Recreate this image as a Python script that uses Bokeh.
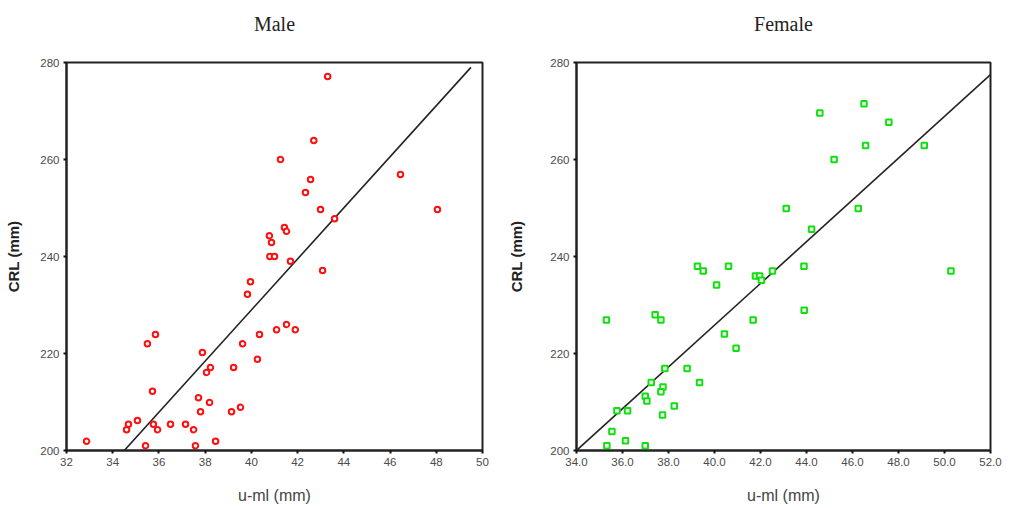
from bokeh.plotting import figure
from bokeh.layouts import row
from bokeh.models import FixedTicker, PrintfTickFormatter, Range1d, LinearAxis
from bokeh.embed import file_html
from bokeh.resources import INLINE

# ---------------- data ----------------
male_x = [43.3, 42.7, 41.26, 46.45, 42.56, 42.34, 42.99, 48.05, 43.6, 41.43, 41.52, 40.78, 40.87,
          40.8, 41.0, 41.69, 43.08, 39.96, 39.83, 41.52, 41.09, 41.9, 40.35, 35.85, 35.5, 39.62,
          37.88, 40.26, 38.23, 39.23, 38.06, 35.72, 37.71, 38.19, 39.53, 37.8, 39.14, 35.07,
          34.68, 35.76, 36.5, 37.15, 34.6, 35.94, 37.5, 32.87, 38.45, 35.42, 37.58]
male_y = [277.1, 263.9, 260.0, 256.9, 255.9, 253.2, 249.7, 249.7, 247.8, 246.0, 245.2, 244.3, 242.9,
          240.0, 240.0, 239.0, 237.1, 234.8, 232.2, 226.0, 224.9, 224.9, 223.9, 223.9, 222.0, 222.0,
          220.2, 218.8, 217.1, 217.1, 216.1, 212.2, 210.9, 209.9, 208.9, 208.0, 208.0, 206.2,
          205.4, 205.4, 205.4, 205.4, 204.3, 204.3, 204.3, 201.9, 201.9, 201.0, 201.0]
male_fit_x = [34.5, 49.5]
male_fit_y = [200.0, 279.0]

female_x = [46.5, 44.58, 47.58, 46.57, 49.12, 45.2, 43.12, 46.25, 44.22,
            39.26, 40.61, 43.89, 39.51, 42.52, 50.28, 41.78, 41.96, 42.04, 40.09, 43.9,
            37.42, 35.3, 37.67, 41.68, 40.43, 40.94, 37.84, 38.81, 37.25, 39.35, 37.76,
            37.67, 36.99, 37.06, 38.25, 35.76, 36.22, 37.74, 35.54, 36.13, 35.32, 36.99]
female_y = [271.5, 269.6, 267.7, 262.9, 262.9, 260.0, 249.9, 249.9, 245.6,
            238.0, 238.0, 238.0, 237.0, 237.0, 237.0, 236.0, 236.0, 235.1, 234.1, 228.9,
            228.0, 226.9, 226.9, 226.9, 224.0, 221.1, 216.9, 216.9, 214.0, 214.0, 213.1,
            212.1, 211.2, 210.2, 209.2, 208.2, 208.2, 207.3, 203.9, 202.0, 201.0, 201.0]
female_fit_x = [34.0, 52.0]
female_fit_y = [200.0, 277.5]

male_xticks = [32, 34, 36, 38, 40, 42, 44, 46, 48, 50]
female_xticks = [34, 36, 38, 40, 42, 44, 46, 48, 50, 52]
yticks = [200, 220, 240, 260, 280]


def make(title, xs, ys, fx, fy, xr, xticks, color, marker, fmt, left, right, fw, ylab_off):
    p = figure(frame_width=fw, frame_height=388, output_backend="svg", toolbar_location=None,
               x_range=Range1d(*xr), y_range=Range1d(200, 280),
               min_border_left=left, min_border_right=right,
               min_border_top=62, min_border_bottom=54)
    xa = p.below[0]
    ya = p.left[0]
    # title drawn as the label of an empty axis above the frame
    top = LinearAxis(ticker=FixedTicker(ticks=[]), axis_label=title,
                     axis_line_color=None, major_tick_in=0, major_tick_out=0,
                     minor_tick_line_color=None, major_label_standoff=0,
                     axis_label_standoff=28,
                     axis_label_text_font="Liberation Serif",
                     axis_label_text_font_size="20px",
                     axis_label_text_font_style="normal",
                     axis_label_text_color="#222222")
    p.add_layout(top, "above")
    p.grid.visible = False
    p.outline_line_color = "#222222"
    p.outline_line_width = 2
    p.outline_line_alpha = 1
    for ax in (xa, ya):
        ax.axis_line_color = "#222222"
        ax.axis_line_width = 2
        ax.major_tick_line_color = "#111111"
        ax.major_tick_line_width = 2
        ax.major_tick_out = 3
        ax.major_tick_in = 0
        ax.minor_tick_line_color = None
        ax.major_label_text_font = "Liberation Sans"
        ax.major_label_text_font_size = "11.5px"
        ax.major_label_text_color = "#4a4a4a"
        ax.major_label_standoff = 4
    xa.ticker = FixedTicker(ticks=xticks)
    ya.ticker = FixedTicker(ticks=yticks)
    if fmt:
        xa.formatter = PrintfTickFormatter(format=fmt)
    xa.axis_label = "u-ml (mm)"
    xa.axis_label_text_font = "Liberation Sans"
    xa.axis_label_text_font_size = "16px"
    xa.axis_label_text_font_style = "normal"
    xa.axis_label_text_color = "#444444"
    xa.axis_label_standoff = 18
    ya.axis_label = "CRL (mm)"
    ya.axis_label_text_font = "Liberation Sans"
    ya.axis_label_text_font_size = "15px"
    ya.axis_label_text_font_style = "bold"
    ya.axis_label_text_color = "#222222"
    ya.axis_label_standoff = ylab_off
    p.line(fx, fy, line_color="#222222", line_width=1.6)
    p.scatter(xs, ys, marker=marker, size=5.5, line_color=color, line_width=2,
              fill_color="white")
    return p


p1 = make("Male", male_x, male_y, male_fit_x, male_fit_y, (32, 50), male_xticks,
          "#ff1010", "circle", None, 66, 23, 416, 15)
p2 = make("Female", female_x, female_y, female_fit_x, female_fit_y, (34, 52), female_xticks,
          "#10e010", "square", "%.1f", 71, 12, 414, 22)

layout = row(p1, p2)
open("out.html", "w").write(file_html(layout, INLINE))
